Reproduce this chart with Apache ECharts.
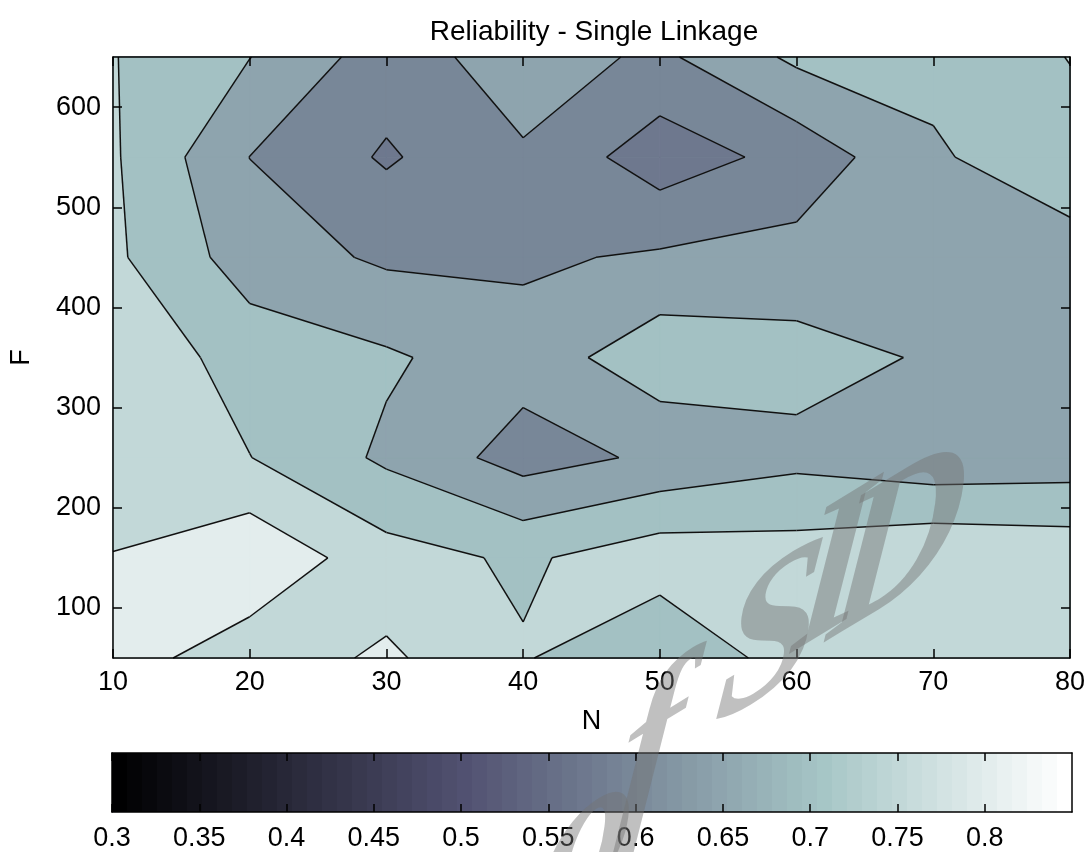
<!DOCTYPE html>
<html>
<head>
<meta charset="utf-8">
<script src="https://cdn.jsdelivr.net/npm/echarts@6/dist/echarts.min.js"></script>
<style>
  html, body { margin: 0; padding: 0; background: #fff; }
  #chart { width: 1088px; height: 852px; }
</style>
</head>
<body>
<div id="chart"></div>
<script>
// grid of the measured surface: columns are N, rows are F (bottom to top)
var nValues = [10, 20, 30, 40, 50, 60, 70, 80];
var fValues = [50, 150, 250, 350, 450, 550, 650];
var reliability = [
  [0.822, 0.772, 0.8085, 0.7545, 0.6995, 0.7775, 0.780, 0.780],  // F = 50
  [0.801, 0.840, 0.770, 0.742, 0.780, 0.774, 0.795, 0.785],      // F = 150
  [0.785, 0.751, 0.691, 0.629, 0.659, 0.686, 0.665, 0.672],      // F = 250
  [0.789, 0.728, 0.707, 0.671, 0.732, 0.7186, 0.6948, 0.680],    // F = 350
  [0.759, 0.676, 0.642, 0.642, 0.657, 0.668, 0.675, 0.679],      // F = 450
  [0.756, 0.6495, 0.594, 0.644, 0.572, 0.617, 0.694, 0.7315],    // F = 550
  [0.752, 0.701, 0.625, 0.675, 0.640, 0.710, 0.713, 0.7515]      // F = 650
];
var levels = [0.6, 0.65, 0.7, 0.75, 0.8];
var fTicks = [100, 200, 300, 400, 500, 600];
var cbTicks = [0.3, 0.35, 0.4, 0.45, 0.5, 0.55, 0.6, 0.65, 0.7, 0.75, 0.8];
var cMin = 0.3, cMax = 0.85;

// matlab "bone" colormap, 64 entries
function bone(i) {
  var t = (i - 1) / 63;
  var hr = Math.min(i / 24, 1);
  var hg = i <= 24 ? 0 : Math.min((i - 24) / 24, 1);
  var hb = i <= 48 ? 0 : (i - 48) / 16;
  var r = (7 * t + hb) / 8, g = (7 * t + hg) / 8, b = (7 * t + hr) / 8;
  return 'rgb(' + Math.round(r * 255) + ',' + Math.round(g * 255) + ',' + Math.round(b * 255) + ')';
}
function colorOf(v) {
  var i = Math.floor((v - cMin) / (cMax - cMin) * 64) + 1;
  return bone(Math.max(1, Math.min(64, i)));
}

var dataMin = Math.min.apply(null, reliability.map(function (r) { return Math.min.apply(null, r); }));
var fillLevels = [dataMin].concat(levels);

function crossing(p, q, L) {
  var t = (L - p[2]) / (q[2] - p[2]);
  return [p[0] + t * (q[0] - p[0]), p[1] + t * (q[1] - p[1])];
}
function cellCorners(ci, ri) {
  return [
    [nValues[ci], fValues[ri], reliability[ri][ci]],
    [nValues[ci + 1], fValues[ri], reliability[ri][ci + 1]],
    [nValues[ci + 1], fValues[ri + 1], reliability[ri + 1][ci + 1]],
    [nValues[ci], fValues[ri + 1], reliability[ri + 1][ci]]
  ];
}
// part of a cell with value >= L; saddles keep the BL-TR diagonal joined
function cellRegion(c, L) {
  var up = c.map(function (p) { return p[2] >= L; });
  if (up[1] && up[3] && !up[0] && !up[2]) {
    return [
      [crossing(c[0], c[1], L), [c[1][0], c[1][1]], crossing(c[1], c[2], L)],
      [crossing(c[2], c[3], L), [c[3][0], c[3][1]], crossing(c[3], c[0], L)]
    ];
  }
  var pts = [];
  for (var i = 0; i < 4; i++) {
    var j = (i + 1) % 4;
    if (up[i]) pts.push([c[i][0], c[i][1]]);
    if (up[i] !== up[j]) pts.push(crossing(c[i], c[j], L));
  }
  return pts.length >= 3 ? [pts] : [];
}
function cellSegments(c, L) {
  var cr = [];
  for (var i = 0; i < 4; i++) {
    var j = (i + 1) % 4;
    cr[i] = ((c[i][2] >= L) !== (c[j][2] >= L)) ? crossing(c[i], c[j], L) : null;
  }
  var found = cr.filter(function (p) { return p; });
  if (found.length === 2) return [found];
  if (found.length === 4) return [[cr[0], cr[1]], [cr[2], cr[3]]];
  return [];
}

var fillData = [], lineData = [];
for (var k = 0; k < fillLevels.length; k++) {
  for (var ri = 0; ri < fValues.length - 1; ri++) {
    for (var ci = 0; ci < nValues.length - 1; ci++) {
      fillData.push([nValues[ci], fValues[ri], k, ci, ri]);
      if (k > 0) lineData.push([nValues[ci], fValues[ri], k - 1, ci, ri]);
    }
  }
}
var cbData = [];
for (var s = 0; s < 64; s++) {
  cbData.push([cMin + s * (cMax - cMin) / 64, cMin + (s + 1) * (cMax - cMin) / 64, s + 1]);
}

var chart = echarts.init(document.getElementById('chart'));
var black = '#000';
function frameAxis(extra) {
  var base = {
    type: 'value',
    z: 10,
    axisLine: { show: true, onZero: false, lineStyle: { color: black, width: 1.5 } },
    axisTick: { show: true, inside: true, length: 9, lineStyle: { color: black, width: 1.5 } },
    axisLabel: { show: false },
    splitLine: { show: false }
  };
  for (var key in extra) base[key] = extra[key];
  return base;
}
var labelStyle = { show: true, color: black, fontSize: 27, fontFamily: 'Liberation Sans' };
var nameStyle = { color: black, fontSize: 27, fontFamily: 'Liberation Sans' };

var option = {
  animation: false,
  backgroundColor: '#fff',
  textStyle: { fontFamily: 'Liberation Sans' },
  title: {
    text: 'Reliability - Single Linkage',
    left: 589,
    top: 13,
    textAlign: 'center',
    textStyle: { color: black, fontSize: 28, fontWeight: 'normal', fontFamily: 'Liberation Sans' }
  },
  grid: [
    { left: 112, right: 16, top: 57, height: 601 },
    { left: 112, right: 16, top: 753, height: 59 }
  ],
  xAxis: [
    frameAxis({ gridIndex: 0, position: 'bottom', min: 10, max: 80, interval: 10,
      axisLabel: Object.assign({ margin: 11 }, labelStyle),
      name: 'N', nameLocation: 'middle', nameGap: 50, nameTextStyle: nameStyle }),
    frameAxis({ gridIndex: 0, position: 'top', min: 10, max: 80, interval: 10 }),
    frameAxis({ gridIndex: 1, position: 'bottom', min: cMin, max: cMax,
      axisTick: { show: true, inside: true, length: 8, customValues: cbTicks, lineStyle: { color: black, width: 1.5 } },
      axisLabel: Object.assign({ margin: 13, customValues: cbTicks }, labelStyle) }),
    frameAxis({ gridIndex: 1, position: 'top', min: cMin, max: cMax,
      axisTick: { show: true, inside: true, length: 8, customValues: cbTicks, lineStyle: { color: black, width: 1.5 } } })
  ],
  yAxis: [
    frameAxis({ gridIndex: 0, position: 'left', min: 50, max: 650,
      axisTick: { show: true, inside: true, length: 9, customValues: fTicks, lineStyle: { color: black, width: 1.5 } },
      axisLabel: Object.assign({ margin: 12, customValues: fTicks }, labelStyle),
      name: 'F', nameLocation: 'middle', nameGap: 78, nameTextStyle: nameStyle }),
    frameAxis({ gridIndex: 0, position: 'right', min: 50, max: 650,
      axisTick: { show: true, inside: true, length: 9, customValues: fTicks, lineStyle: { color: black, width: 1.5 } } }),
    frameAxis({ gridIndex: 1, position: 'left', min: 0, max: 1, axisTick: { show: false } }),
    frameAxis({ gridIndex: 1, position: 'right', min: 0, max: 1, axisTick: { show: false } })
  ],
  series: [
    {
      type: 'custom',
      name: 'fill',
      xAxisIndex: 0, yAxisIndex: 0,
      encode: { x: 0, y: 1 },
      data: fillData,
      z: 1,
      renderItem: function (params, api) {
        var k = api.value(2), ci = api.value(3), ri = api.value(4);
        var c = cellCorners(ci, ri);
        var polys = k === 0 ? [c.map(function (p) { return [p[0], p[1]]; })] : cellRegion(c, fillLevels[k]);
        var col = colorOf(fillLevels[k]);
        return {
          type: 'group',
          children: polys.map(function (poly) {
            return {
              type: 'polygon',
              z2: k,
              shape: { points: poly.map(function (pt) { return api.coord(pt); }) },
              style: { fill: col, stroke: col, lineWidth: 1 }
            };
          })
        };
      }
    },
    {
      type: 'custom',
      name: 'lines',
      xAxisIndex: 0, yAxisIndex: 0,
      encode: { x: 0, y: 1 },
      data: lineData,
      z: 3,
      renderItem: function (params, api) {
        var k = api.value(2), ci = api.value(3), ri = api.value(4);
        var segs = cellSegments(cellCorners(ci, ri), levels[k]);
        return {
          type: 'group',
          children: segs.map(function (seg) {
            return {
              type: 'polyline',
              shape: { points: seg.map(function (pt) { return api.coord(pt); }) },
              style: { stroke: '#111', lineWidth: 1.5, fill: null }
            };
          })
        };
      }
    },
    {
      type: 'custom',
      name: 'colorbar',
      xAxisIndex: 2, yAxisIndex: 2,
      encode: { x: 0, y: -1 },
      data: cbData,
      z: 1,
      renderItem: function (params, api) {
        var p0 = api.coord([api.value(0), 1]);
        var p1 = api.coord([api.value(1), 0]);
        var col = bone(api.value(2));
        return {
          type: 'rect',
          shape: { x: p0[0], y: p0[1], width: p1[0] - p0[0] + 0.6, height: p1[1] - p0[1] },
          style: { fill: col, stroke: null }
        };
      }
    }
  ]
};
chart.setOption(option);

// archive watermark laid across the lower right, one skewed letter at a time
var wmLetters = ['o', 'f', 'S', 'I', 'D'];
var wmSpots = [[588, 845], [650, 758], [770, 642], [833, 578], [898, 548]];
wmLetters.forEach(function (ch, i) {
  var t = new echarts.graphic.Text({
    style: {
      text: ch,
      font: 'italic bold 205px "Liberation Serif"',
      fill: 'rgba(115,115,115,0.45)',
      align: 'center',
      verticalAlign: 'middle'
    },
    z: 100
  });
  t.setLocalTransform([0.9, -0.55, -0.12, 1, wmSpots[i][0], wmSpots[i][1]]);
  chart.getZr().add(t);
});
</script>
</body>
</html>
